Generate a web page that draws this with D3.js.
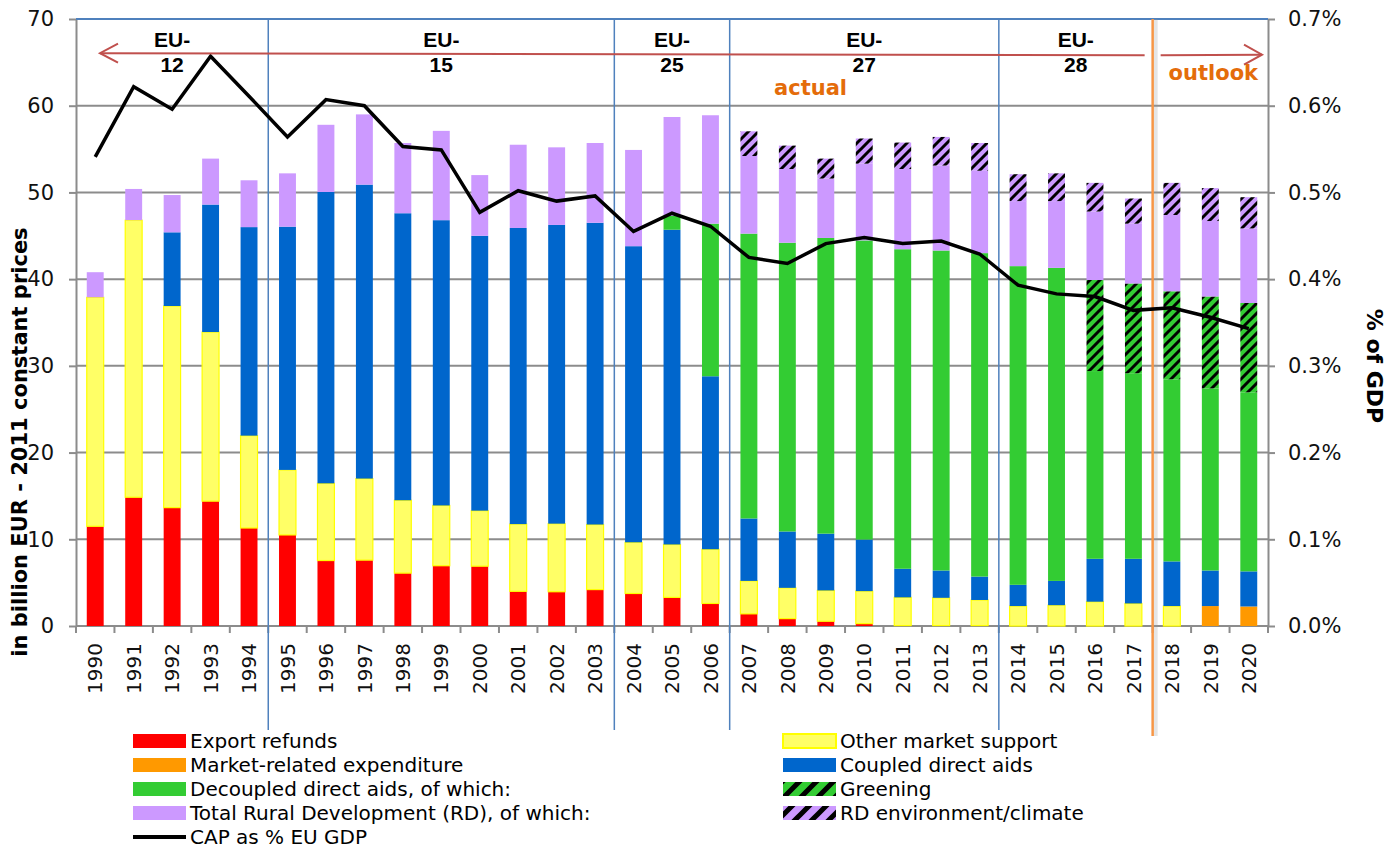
<!DOCTYPE html>
<html>
<head>
<meta charset="utf-8">
<script src="https://cdn.jsdelivr.net/npm/d3@7"></script>
<style>
body { margin: 0; background: #fff; }
svg { display: block; font-family: "DejaVu Sans", Verdana, sans-serif; }
</style>
</head>
<body>
<script>
// years on the x axis
const years = ["1990","1991","1992","1993","1994","1995","1996","1997","1998","1999",
  "2000","2001","2002","2003","2004","2005","2006","2007","2008","2009",
  "2010","2011","2012","2013","2014","2015","2016","2017","2018","2019","2020"];

// billion EUR, 2011 constant prices
const exportRefunds = [11.5,14.85,13.65,14.4,11.3,10.5,7.55,7.6,6.1,6.95,
  6.9,4.0,3.95,4.2,3.75,3.3,2.6,1.4,0.85,0.55,
  0.27,0.05,0.05,0.05,0,0,0,0,0,0,0];
const marketRelated = [0,0,0,0,0,0,0,0,0,0,
  0,0,0,0,0,0,0,0,0,0,
  0,0,0,0,0,0,0,0,0,2.3,2.25];
const otherMarket = [26.4,31.95,23.25,19.5,10.65,7.5,8.9,9.4,8.4,6.95,
  6.4,7.75,7.85,7.5,5.9,6.1,6.25,3.8,3.55,3.55,
  3.75,3.25,3.2,2.95,2.3,2.4,2.8,2.6,2.3,0,0];
const coupled = [0,0,8.5,14.7,24.05,28.05,33.6,33.9,33.1,32.9,
  31.7,34.15,34.45,34.8,34.15,36.3,19.95,7.2,6.5,6.55,
  5.95,3.3,3.15,2.7,2.45,2.8,4.95,5.15,5.15,4.1,4.05];
const decoupled = [0,0,0,0,0,0,0,0,0,0,
  0,0,0,0,0,1.6,17.6,32.85,33.3,34.1,
  34.5,36.85,36.9,37.3,36.75,36.1,32.15,31.75,31.15,31.6,30.95];
const greening = [0,0,0,0,0,0,0,0,0,0,
  0,0,0,0,0,0,0,0,0,0,
  0,0,0,0,0,0,10.5,10.35,10.15,10.6,10.3];
const ruralDev = [2.9,3.6,4.3,5.3,5.4,6.15,7.75,8.1,8.1,10.3,
  7.0,9.6,8.95,9.2,11.1,11.4,12.5,11.8,11.2,9.15,
  11.75,12.3,13.1,12.7,10.6,10.9,11.2,9.8,12.5,12.5,12.2];
const rdEnv = [0,0,0,0,0,0,0,0,0,0,
  0,0,0,0,0,0,0,2.85,2.7,2.3,
  2.9,3.05,3.3,3.2,3.1,3.2,3.3,2.9,3.7,3.8,3.6];
// CAP as % of EU GDP (right axis)
const capGdp = [0.541,0.622,0.596,0.657,0.611,0.564,0.607,0.600,0.553,0.549,
  0.477,0.502,0.490,0.496,0.455,0.476,0.461,0.425,0.418,0.441,
  0.448,0.441,0.444,0.429,0.393,0.383,0.380,0.364,0.367,0.356,0.343];

const yTicks = [0,10,20,30,40,50,60,70];
const y2Ticks = [0,0.1,0.2,0.3,0.4,0.5,0.6,0.7];

// enlargement periods (label sits over the "actual" part)
const periods = [
  {top:"EU-", num:"12", from:"1990", to:"1994"},
  {top:"EU-", num:"15", from:"1995", to:"2003"},
  {top:"EU-", num:"25", from:"2004", to:"2006"},
  {top:"EU-", num:"27", from:"2007", to:"2013"},
  {top:"EU-", num:"28", from:"2014", to:"2017"}
];
const outlookFrom = "2018";

const legendLeft = [
  {key:"er", label:"Export refunds"},
  {key:"mr", label:"Market-related expenditure"},
  {key:"dda", label:"Decoupled direct aids, of which:"},
  {key:"rd", label:"Total Rural Development (RD), of which:"},
  {key:"line", label:"CAP as % EU GDP"}
];
const legendRight = [
  {key:"oms", label:"Other market support"},
  {key:"cda", label:"Coupled direct aids"},
  {key:"gr", label:"Greening"},
  {key:"rde", label:"RD environment/climate"}
];

const W = 1390, H = 850;
const L = 76, R = 1268, T = 19, B = 626;
const gridCol = "#8c8c8c";
const sepCol = "#4f81bd";

const svg = d3.select("body").append("svg").attr("width", W).attr("height", H);

const x = d3.scaleBand().domain(years).range([L, R]).paddingInner(0.56).paddingOuter(0.28);
const y = d3.scaleLinear().domain([0, 70]).range([B, T]);
const y2 = d3.scaleLinear().domain([0, 0.7]).range([B, T]);
const bw = x.bandwidth();
const edge = d => x(d) + bw / 2 - x.step() / 2;
const mid = d => x(d) + bw / 2;

// hatch patterns
const defs = svg.append("defs");
function hatch(id, bg, s) {
  const p = defs.append("pattern").attr("id", id)
    .attr("patternUnits", "userSpaceOnUse").attr("width", s).attr("height", s);
  p.append("rect").attr("width", s).attr("height", s).attr("fill", bg);
  p.append("path")
    .attr("d", `M${-s/2},${s/2}L${s/2},${-s/2}M0,${s}L${s},0M${s/2},${s*1.5}L${s*1.5},${s/2}`)
    .attr("stroke", "#000").attr("stroke-width", s * 0.3);
}
hatch("hGreen", "#33cc33", 10);
hatch("hPurple", "#cc99ff", 10);
hatch("hGreenL", "#33cc33", 17);
hatch("hPurpleL", "#cc99ff", 17);

const fills = {er:"#ff0000", mr:"#ff9900", oms:"#ffff66", cda:"#0066cc",
  dda:"#33cc33", gr:"url(#hGreen)", rd:"#cc99ff", rde:"url(#hPurple)"};
const legendFills = Object.assign({}, fills, {gr:"url(#hGreenL)", rde:"url(#hPurpleL)"});

// gridlines
svg.append("g").selectAll("line").data(yTicks.filter(d => d > 0)).join("line")
  .attr("x1", L).attr("x2", R)
  .attr("y1", d => y(d)).attr("y2", d => y(d))
  .attr("stroke", gridCol).attr("stroke-width", 2);

// left axis
const gy = svg.append("g").attr("transform", `translate(${L},0)`)
  .call(d3.axisLeft(y).tickValues(yTicks).tickSize(7).tickPadding(15).tickSizeOuter(0))
  .attr("font-size", 21).attr("font-family", null);
gy.selectAll(".domain, .tick line").attr("stroke", gridCol).attr("stroke-width", 2);
gy.selectAll("text").attr("fill", "#111");

// right axis
const gy2 = svg.append("g").attr("transform", `translate(${R},0)`)
  .call(d3.axisRight(y2).tickValues(y2Ticks).tickSize(7).tickPadding(13).tickSizeOuter(0)
    .tickFormat(d => d.toFixed(1) + "%"))
  .attr("font-size", 21).attr("font-family", null);
gy2.selectAll(".domain, .tick line").attr("stroke", gridCol).attr("stroke-width", 2);
gy2.selectAll("text").attr("fill", "#111");

// x axis
const gx = svg.append("g");
gx.append("line").attr("x1", L).attr("x2", R).attr("y1", B).attr("y2", B)
  .attr("stroke", gridCol).attr("stroke-width", 2);
gx.selectAll("line.tk").data(years.map(edge).concat([R])).join("line").attr("class", "tk")
  .attr("x1", d => d).attr("x2", d => d).attr("y1", B).attr("y2", B + 7)
  .attr("stroke", gridCol).attr("stroke-width", 2);
gx.selectAll("text").data(years).join("text")
  .attr("transform", d => `translate(${mid(d)},${B + 17}) rotate(-90)`)
  .attr("dy", "0.36em").attr("text-anchor", "end")
  .attr("font-size", 20).attr("fill", "#111").text(d => d);

// stacked bars
const rows = years.map((yr, i) => ({
  year: yr, er: exportRefunds[i], mr: marketRelated[i], oms: otherMarket[i],
  cda: coupled[i], dda: decoupled[i] - greening[i], gr: greening[i],
  rd: ruralDev[i] - rdEnv[i], rde: rdEnv[i]
}));
const keys = ["er","mr","oms","cda","dda","gr","rd","rde"];
const stacked = d3.stack().keys(keys)(rows);

svg.append("g").selectAll("g").data(stacked).join("g")
  .attr("fill", s => fills[s.key])
  .attr("stroke", s => s.key === "oms" ? "#ffff00" : "none")
  .attr("stroke-width", 1.2)
  .selectAll("rect").data(s => s.filter(d => d[1] - d[0] > 0)).join("rect")
  .attr("x", d => x(d.data.year))
  .attr("width", bw)
  .attr("y", d => y(d[1]))
  .attr("height", d => y(d[0]) - y(d[1]));

// period separators
const sepG = svg.append("g");
sepG.append("line").attr("x1", L).attr("x2", R).attr("y1", T).attr("y2", T)
  .attr("stroke", sepCol).attr("stroke-width", 2);
sepG.selectAll("line.sep").data(periods.slice(1)).join("line").attr("class", "sep")
  .attr("x1", d => edge(d.from)).attr("x2", d => edge(d.from))
  .attr("y1", T).attr("y2", 730)
  .attr("stroke", sepCol).attr("stroke-width", 1.5);

// actual / outlook split
const ox = edge(outlookFrom);
sepG.append("line").attr("x1", ox + 3).attr("x2", ox + 3).attr("y1", T).attr("y2", 736)
  .attr("stroke", "#999").attr("stroke-width", 4).attr("opacity", 0.25);
sepG.append("line").attr("x1", ox).attr("x2", ox).attr("y1", T).attr("y2", 736)
  .attr("stroke", "#f79646").attr("stroke-width", 2.5);

// CAP % GDP line
const line = d3.line().x(d => mid(d.year)).y(d => y2(d.v));
svg.append("path")
  .datum(years.map((yr, i) => ({year: yr, v: capGdp[i]})))
  .attr("d", line).attr("fill", "none")
  .attr("stroke", "#000").attr("stroke-width", 3.5);

// arrows
const ay = y(66);
const arrowCol = "#c0504d";
const ag = svg.append("g").attr("fill", "none").attr("stroke", arrowCol).attr("stroke-width", 2);
ag.append("path").attr("d", `M${L + 24},${ay - 0.5}L${ox - 8},${ay + 1.5}`);
ag.append("path").attr("d", `M${L + 42},${ay - 10}L${L + 24},${ay - 0.5}L${L + 42},${ay + 9}`);
ag.append("path").attr("d", `M${ox + 8},${ay + 1.5}L${R - 6},${ay + 1}`);
ag.append("path").attr("d", `M${R - 24},${ay - 9}L${R - 6},${ay + 1}L${R - 24},${ay + 11}`);

// period labels
const pl = svg.append("g").attr("font-family", "'Liberation Sans', Arial, sans-serif")
  .attr("font-weight", "bold").attr("font-size", 21).attr("text-anchor", "middle").attr("fill", "#000");
periods.forEach(p => {
  const cx = (mid(p.from) + mid(p.to)) / 2;
  pl.append("text").attr("x", cx).attr("y", 47).text(p.top);
  pl.append("text").attr("x", cx).attr("y", 72).text(p.num);
});

const ol = svg.append("g").attr("font-weight", "bold").attr("font-size", 21)
  .attr("fill", "#e46c0a").attr("text-anchor", "middle");
ol.append("text").attr("x", edge("2009") + 4).attr("y", 95).text("actual");
ol.append("text").attr("x", mid("2019") + 3).attr("y", 80).text("outlook");

// axis titles
svg.append("text").attr("transform", "translate(27,442) rotate(-90)")
  .attr("text-anchor", "middle").attr("font-weight", "bold").attr("font-size", 21)
  .text("in billion EUR - 2011 constant prices");
svg.append("text").attr("transform", "translate(1367,366) rotate(90)")
  .attr("text-anchor", "middle").attr("font-weight", "bold").attr("font-size", 22)
  .text("% of GDP");

// legend
function legendCol(items, sx, tx) {
  const g = svg.append("g");
  items.forEach((it, i) => {
    const cy = 741 + i * 24;
    if (it.key === "line") {
      g.append("line").attr("x1", sx).attr("x2", sx + 53).attr("y1", cy).attr("y2", cy)
        .attr("stroke", "#000").attr("stroke-width", 4);
    } else {
      g.append("rect").attr("x", sx).attr("y", cy - 7).attr("width", 53).attr("height", 14)
        .attr("fill", legendFills[it.key])
        .attr("stroke", it.key === "oms" ? "#ffff00" : "none").attr("stroke-width", 2);
    }
    g.append("text").attr("x", tx).attr("y", cy + 7).attr("font-size", 20)
      .attr("fill", "#000").text(it.label);
  });
}
legendCol(legendLeft, 133, 190);
legendCol(legendRight, 783, 840);
</script>
</body>
</html>
